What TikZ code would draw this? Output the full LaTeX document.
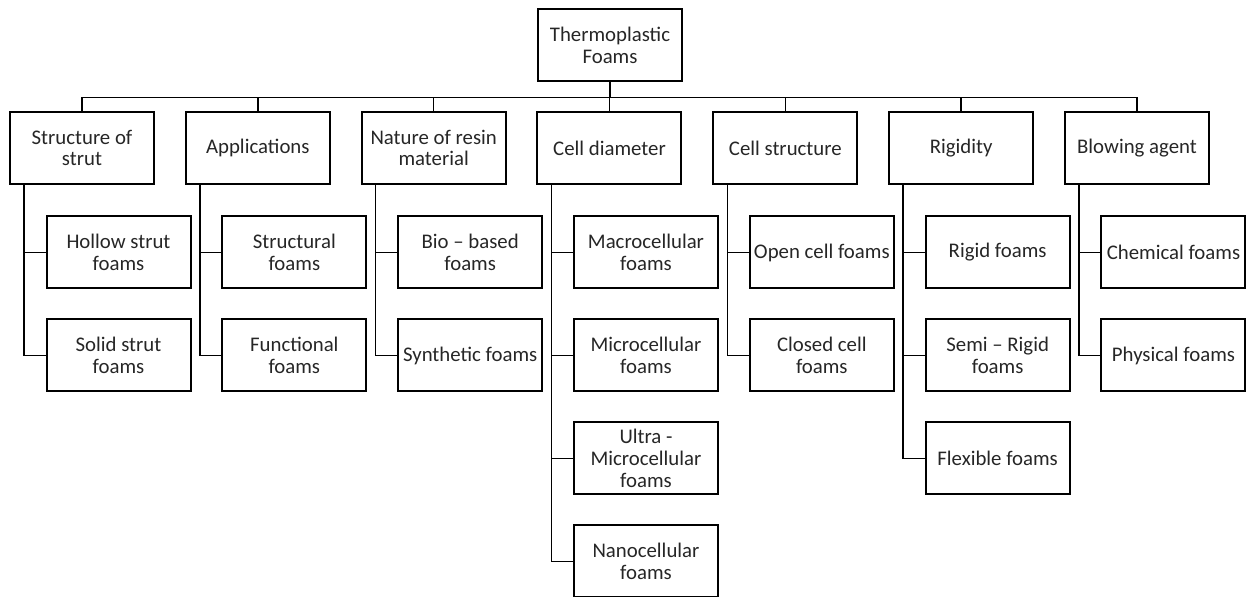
\documentclass[tikz,border=0pt]{standalone}
\usepackage{fontspec}
\setmainfont{Carlito}
\usepackage{tikz}
\usetikzlibrary{positioning}

\begin{document}
\begin{tikzpicture}[x=0.5pt, y=-0.5pt,
    box/.style={draw, line width=1pt, minimum width=72pt, minimum height=36pt,
      align=center, inner sep=1pt, text=black!85, font=\fontsize{10.4}{10.9}\selectfont},
    link/.style={line width=0.75pt}]
    \useasboundingbox (0,0) rectangle (1248,597);
    % root
    \node[box] (root) at (610,45.5) {Thermoplastic\\Foams};
    \coordinate (bus) at (610,97.5);
    % categories
    \foreach \i/\name in {1/{Structure of\\strut}, 2/Applications,
        3/{Nature of resin\\material}, 4/Cell diameter, 5/Cell structure,
        6/Rigidity, 7/Blowing agent} {
      \node[box] (c\i) at ({82+175.83*(\i-1)},148) {\name};
      \draw[link] (c\i.north) -- (c\i.north |- bus);
    }
    \draw[link] (root.south) -- (bus);
    \draw[link] (c1.north |- bus) -- (c7.north |- bus);
    % sub-types
    \foreach \i/\k/\name in {1/1/{Hollow strut\\foams}, 1/2/{Solid strut\\foams},
        2/1/{Structural\\foams}, 2/2/{Functional\\foams},
        3/1/{Bio -- based\\foams}, 3/2/{Synthetic foams},
        4/1/{Macrocellular\\foams}, 4/2/{Microcellular\\foams},
        4/3/{Ultra -\\Microcellular\\foams}, 4/4/{Nanocellular\\foams},
        5/1/{Open cell foams}, 5/2/{Closed cell\\foams},
        6/1/{Rigid foams}, 6/2/{Semi -- Rigid\\foams}, 6/3/{Flexible foams},
        7/1/{Chemical foams}, 7/2/{Physical foams}} {
      \node[box] (c\i-\k) at ({118.5+175.83*(\i-1)},{252.5+103*(\k-1)}) {\name};
      \draw[link] ([xshift=7.5pt]c\i.south west) |- (c\i-\k.west);
    }
\end{tikzpicture}
\end{document}
